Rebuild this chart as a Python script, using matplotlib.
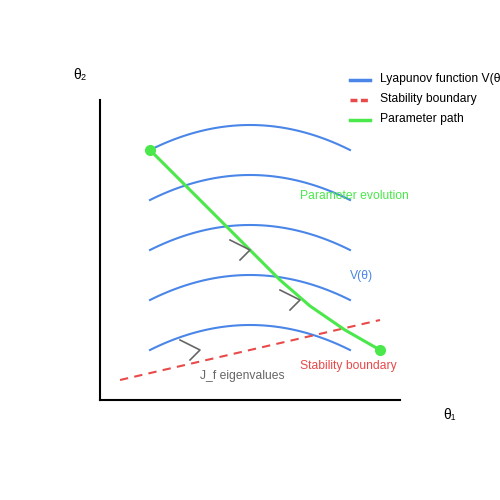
import numpy as np
import matplotlib.pyplot as plt

plt.rcParams['font.family'] = ['Liberation Sans', 'DejaVu Sans']

BLUE, RED, GREEN, GRAY = "#4a86e8", "#e84a4a", "#4ae84a", "#666666"

# level curves of V: (x_left, x_right, y_end, y_peak) in canvas pixels
arc_left, arc_right = 150, 350
arc_ends = [150, 200, 250, 300, 350]
arc_peaks = [125, 175, 225, 275, 325]

path_x = [150, 200, 250, 280, 310, 345, 380]
path_y = [150, 200, 250, 280, 306, 330, 350]

bound_x = [120, 380]
bound_y = [380, 320]

chevrons = [(250, 250), (300, 300), (200, 350)]

fig = plt.figure(figsize=(5, 5), dpi=100)
ax = fig.add_axes([0, 0, 1, 1])
ax.set_xlim(0, 500); ax.set_ylim(500, 0); ax.axis("off")

# axes
ax.plot([100, 100], [100, 400], color="black", lw=1.5)
ax.plot([100, 400], [400, 400], color="black", lw=1.5)
ax.text(80, 75, "θ₂", fontsize=10, ha="center", va="center")
ax.text(450, 415, "θ₁", fontsize=10, ha="center", va="center")

for ye, yp in zip(arc_ends, arc_peaks):
    t = np.linspace(-1, 1, 60)
    x = (arc_left + arc_right) / 2 + t * (arc_right - arc_left) / 2
    ax.plot(x, yp + (ye - yp) * t**2, color=BLUE, lw=1.5)

ax.plot(bound_x, bound_y, color=RED, lw=1.5, ls=(0, (4, 3)))
ax.plot(path_x, path_y, color=GREEN, lw=2.2)
ax.plot([path_x[0], path_x[-1]], [path_y[0], path_y[-1]], "o", color=GREEN, ms=7)

for cx, cy in chevrons:
    ax.plot([cx - 20, cx, cx - 10], [cy - 10, cy, cy + 10], color=GRAY, lw=1.2)

ax.text(300, 196, "Parameter evolution", color=GREEN, fontsize=8.7, va="center")
ax.text(350, 276, "V(θ)", color=BLUE, fontsize=8.7, va="center")
ax.text(300, 366, "Stability boundary", color=RED, fontsize=8.7, va="center")
ax.text(200, 376, "J_f eigenvalues", color=GRAY, fontsize=8.7, va="center")

# legend
for y, c, ls, lab in [(80, BLUE, "-", "Lyapunov function V(θ)"),
                      (100, RED, (0, (2, 1)), "Stability boundary"),
                      (120, GREEN, "-", "Parameter path")]:
    ax.plot([350, 370], [y, y], color=c, lw=2.5, ls=ls)
    ax.text(380, y - 1, lab, fontsize=8.7, va="center")

fig.savefig("out.png")
